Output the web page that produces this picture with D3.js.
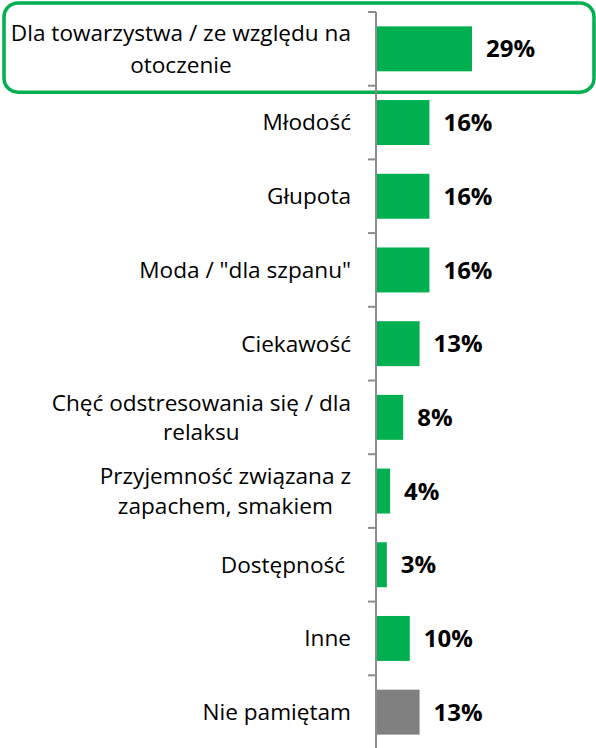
<!DOCTYPE html>
<html>
<head>
<meta charset="utf-8">
<script src="https://cdn.jsdelivr.net/npm/d3@7"></script>
<style>
  html, body { margin: 0; padding: 0; background: #fff; }
  svg { display: block; }
  text { font-family: "Open Sans", Lato, sans-serif; }
</style>
</head>
<body>
<svg id="chart" width="596" height="748"></svg>
<script>
const categories = [
  "Dla towarzystwa / ze względu na\notoczenie",
  "Młodość",
  "Głupota",
  "Moda / \"dla szpanu\"",
  "Ciekawość",
  "Chęć odstresowania się / dla\nrelaksu",
  "Przyjemność związana z\nzapachem, smakiem",
  "Dostępność ",
  "Inne",
  "Nie pamiętam"
];
const values = [0.29, 0.16, 0.16, 0.16, 0.13, 0.08, 0.04, 0.03, 0.10, 0.13];
const valueLabels = ["29%", "16%", "16%", "16%", "13%", "8%", "4%", "3%", "10%", "13%"];
const highlighted = [true, false, false, false, false, false, false, false, false, false];
const greyed = [false, false, false, false, false, false, false, false, false, true];

const svg = d3.select("#chart");
const GREEN = "#00B050", GREY = "#808080", AXIS = "#8c8c8c";

const y = d3.scaleBand().domain(d3.range(categories.length))
  .range([12, 749]).paddingInner(0.39).paddingOuter(0.195);
const yStep = d3.scaleBand().domain(d3.range(categories.length)).range([12, 749]).padding(0);
const x = d3.scaleLinear().domain([0, 0.29]).range([377, 472]);

// highlight box
categories.forEach((c, i) => {
  if (!highlighted[i]) return;
  svg.append("rect")
    .attr("x", 4).attr("y", 3)
    .attr("width", 590).attr("height", yStep(i) + yStep.step() + 3.5)
    .attr("rx", 14).attr("ry", 14)
    .attr("fill", "none").attr("stroke", GREEN).attr("stroke-width", 3.5);
});

// bars
svg.append("g").selectAll("rect").data(values).join("rect")
  .attr("x", x(0))
  .attr("y", (d, i) => y(i))
  .attr("width", d => x(d) - x(0))
  .attr("height", y.bandwidth())
  .attr("fill", (d, i) => greyed[i] ? GREY : GREEN);

// axis line and ticks at band boundaries
const ax = svg.append("g");
ax.append("line").attr("x1", 376).attr("x2", 376).attr("y1", 12).attr("y2", 748)
  .attr("stroke", AXIS).attr("stroke-width", 2);
const bounds = d3.range(categories.length + 1).map(i => 12 + i * yStep.step());
ax.selectAll("line.tick").data(bounds).join("line").attr("class", "tick")
  .attr("x1", 368).attr("x2", 376).attr("y1", d => d).attr("y2", d => d)
  .attr("stroke", AXIS).attr("stroke-width", 2);

// category labels
const RIGHT = 351, FS = 22.6;
categories.forEach((c, i) => {
  const lines = c.split("\n");
  const LH = i === 0 ? 32 : 29.5;
  const cy = y(i) + y.bandwidth() / 2;
  const g = svg.append("g");
  const ts = lines.map((ln, k) => g.append("text")
    .attr("x", RIGHT)
    .attr("y", cy + (k - (lines.length - 1) / 2) * LH)
    .attr("dy", "0.35em")
    .attr("text-anchor", "end")
    .attr("font-size", FS)
    .attr("fill", "#000")
    .style("white-space", "pre")
    .text(ln));
  if (lines.length > 1) {
    const ws = ts.map(t => t.node().getComputedTextLength());
    const maxW = d3.max(ws);
    ts.forEach((t, k) => t.attr("x", RIGHT - (maxW - ws[k]) / 2));
  }
});

// value labels
svg.append("g").selectAll("text").data(values).join("text")
  .attr("x", d => x(d) + 14)
  .attr("y", (d, i) => y(i) + y.bandwidth() / 2)
  .attr("dy", "0.36em")
  .attr("font-size", 24)
  .attr("font-weight", "bold")
  .attr("fill", "#000")
  .text((d, i) => valueLabels[i]);
</script>
</body>
</html>
